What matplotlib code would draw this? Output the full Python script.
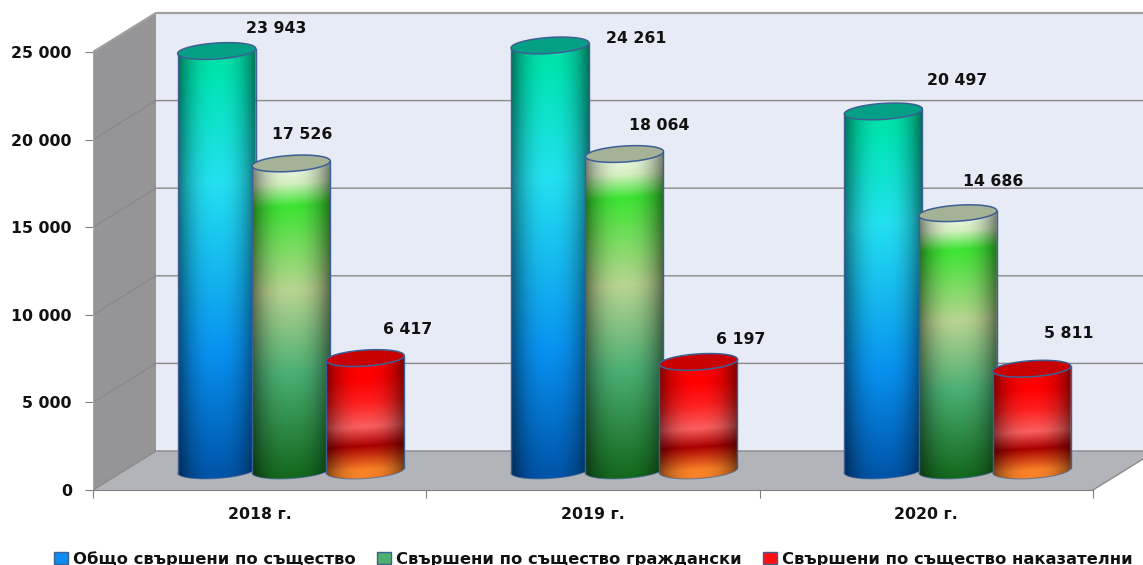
import numpy as np
import matplotlib
matplotlib.use("Agg")
import matplotlib.pyplot as plt
from matplotlib.patches import Patch, PathPatch, Polygon
from matplotlib.path import Path

years = ["2018 г.", "2019 г.", "2020 г."]
total = [23943, 24261, 20497]
civil = [17526, 18064, 14686]
criminal = [6417, 6197, 5811]
series_names = ["Общо свършени по същество",
                "Свършени по същество граждански",
                "Свършени по същество наказателни"]
value_labels = [["23 943", "24 261", "20 497"],
                ["17 526", "18 064", "14 686"],
                ["6 417", "6 197", "5 811"]]
yticks = [0, 5000, 10000, 15000, 20000, 25000]
ytick_labels = ["0", "5 000", "10 000", "15 000", "20 000", "25 000"]

# gradient stops, fraction of cylinder height from the bottom
grad_total = [(0.0, (0, 85, 170)), (0.29, (8, 145, 240)), (0.7, (35, 225, 240)), (0.95, (0, 228, 178)), (1.0, (0, 225, 170))]
grad_civil = [(0.0, (20, 105, 30)), (0.33, (75, 175, 115)), (0.6, (185, 212, 145)), (0.875, (60, 228, 50)), (0.95, (215, 240, 195)), (1.0, (235, 248, 225))]
grad_crim = [(0.05, (250, 130, 40)), (0.26, (170, 0, 0)), (0.43, (250, 95, 95)), (0.65, (255, 30, 30)), (0.85, (255, 0, 0)), (1.0, (255, 0, 0))]
gradients = [grad_total, grad_civil, grad_crim]
top_colors = ["#04a085", "#a6b296", "#c80000"]
edge_color = "#3d5f95"

W, H = 1143, 565
fig = plt.figure(figsize=(W / 100, H / 100), dpi=100, facecolor="white")
# axes: left spine at px 93, bottom spine at px 490, runs to the top right corner
ax = fig.add_axes([93 / W, (H - 490) / H, (W - 93) / W, 490 / H])
px_x = 1 / 333.3333  # data units per pixel, x
px_y = 25000 / 438  # data units per pixel, y
xmin, xmax = -0.5, -0.5 + (W - 93) * px_x
ymin, ymax = 0, 490 * px_y
depth_x, depth_y = 63 * px_x, 39 * px_y  # 3d depth of the chart box

# walls and floor
wall_top = 25000 + depth_y
ax.add_patch(Polygon([(-0.5 + depth_x, depth_y), (xmax + 1, depth_y), (xmax + 1, wall_top), (-0.5 + depth_x, wall_top)],
                     fc="#e7ebf5", ec="none", zorder=1))
ax.add_patch(Polygon([(-0.5, 0), (-0.5 + depth_x, depth_y), (-0.5 + depth_x, wall_top), (-0.5, 25000)],
                     fc="#959598", ec="none", zorder=1))
ax.add_patch(Polygon([(-0.5, 0), (-0.5 + depth_x, depth_y), (xmax + 1, depth_y), (2.5 + depth_x, depth_y), (2.5, 0)],
                     fc="#b2b4ba", ec="none", zorder=1))
for t in yticks:
    lw = 1.6 if t == 25000 else 1.0
    color = "#a0a0a0" if t == 25000 else "#8a8a8a"
    ax.plot([-0.5, -0.5 + depth_x, xmax], [t, t + depth_y, t + depth_y], color=color, lw=lw, zorder=2)
ax.plot([2.5, 2.5 + depth_x], [0, depth_y], color="#8a8a8a", lw=1.0, zorder=2)

# cylinders
half_w = 39 * px_x
semi_h = 8 * px_y
tilt = 2.5 * px_y
offsets = [-74.5 * px_x, 0, 74 * px_x]
all_values = [total, civil, criminal]
# value labels were placed by hand in the original, offset from each bar top in pixels
label_dx = [[60, 86, 74], [11, 34.5, 35], [42, 42, 37]]
label_dy = [[23, 6.5, 31], [29, 29, 32], [29, 22, 35]]


def ramp(frac, stops):
    pos = [s[0] for s in stops]
    return np.stack([np.interp(frac, pos, [s[1][c] for s in stops]) for c in range(3)], axis=-1) / 255


def draw_cylinder(cx, value, stops, top_color, z):
    base = depth_y / 2
    t = np.linspace(np.pi, 2 * np.pi, 60)
    xa = cx + half_w * np.cos(t)
    low = semi_h * np.sin(t) + tilt * np.cos(t)
    xs = np.r_[xa, xa[::-1]]
    ys = np.r_[base + low, base + value + low[::-1]]
    body = Path(np.column_stack([xs, ys]))

    nx, ny = 160, 700
    gx = np.linspace(cx - half_w, cx + half_w, nx)
    gy = np.linspace(base - semi_h - tilt, base + value + semi_h + tilt, ny)
    xx, yy = np.meshgrid(gx, gy)
    u = (xx - cx) / half_w
    frac = np.clip((yy - base - tilt * u + semi_h * 0.6) / value, 0, 1)
    rgb = ramp(frac, stops)
    shade = 1 - 0.5 * np.abs(u) ** 2.4
    rgb = rgb * shade[..., None]
    im = ax.imshow(rgb, extent=(gx[0], gx[-1], gy[0], gy[-1]), origin="lower", aspect="auto", zorder=z, interpolation="bilinear")
    patch = PathPatch(body, fc="none", ec="none", transform=ax.transData, zorder=z)
    ax.add_patch(patch)
    im.set_clip_path(patch)
    # outline on the sides and the rim
    ax.plot(xa[[0, 0]], [base + low[0], base + value + low[0]], color=edge_color, lw=1, zorder=z + 0.1)
    ax.plot(xa[[-1, -1]], [base + low[-1], base + value + low[-1]], color=edge_color, lw=1, zorder=z + 0.1)
    ax.plot(xa, base + low, color=edge_color, lw=0.8, alpha=0.6, zorder=z + 0.1)
    tt = np.linspace(0, 2 * np.pi, 120)
    ax.add_patch(Polygon(np.column_stack([cx + half_w * np.cos(tt), base + value + semi_h * np.sin(tt) + tilt * np.cos(tt)]),
                         fc=top_color, ec=edge_color, lw=1.1, zorder=z + 0.2))


for s, values in enumerate(all_values):
    for i, v in enumerate(values):
        cx = i + depth_x / 2 + offsets[s]
        draw_cylinder(cx, v, gradients[s], top_colors[s], 3 + s)
        ax.text(cx + label_dx[s][i] * px_x, depth_y / 2 + v + label_dy[s][i] * px_y, value_labels[s][i],
                ha="center", va="center", fontsize=11.3, fontweight="bold", color="#111111", zorder=8)

ax.set_xlim(xmin, xmax)
ax.set_ylim(ymin, ymax)
ax.patch.set_visible(False)
for side in ["top", "right"]:
    ax.spines[side].set_visible(False)
ax.spines["left"].set_bounds(0, 25000)
ax.spines["bottom"].set_bounds(-0.5, 2.5)
ax.spines["left"].set_color("#a8a8a8")
ax.spines["bottom"].set_color("#808080")
ax.set_yticks(yticks)
ax.set_yticklabels(ytick_labels, fontsize=11.3, fontweight="bold", color="#111111")
ax.set_xticks([-0.5, 0.5, 1.5, 2.5])
ax.set_xticklabels([])
ax.set_xticks([0, 1, 2], minor=True)
ax.set_xticklabels(years, minor=True, fontsize=11.3, fontweight="bold", color="#111111")
ax.tick_params(axis="x", which="minor", length=0, pad=12)
ax.tick_params(axis="both", which="major", color="#808080", length=5.8, direction="out")
ax.tick_params(axis="y", pad=9.4)

handles = [Patch(fc="#0c8cf0", ec=edge_color), Patch(fc="#4caf6e", ec=edge_color), Patch(fc="#ff1010", ec=edge_color)]
fig.legend(handles, series_names, loc="lower center", ncol=3, frameon=False, bbox_to_anchor=(0.519, -0.029),
           prop={"size": 11.8, "weight": "bold"}, handlelength=0.85, handleheight=0.7, handletextpad=0.3, columnspacing=1.3,
           labelcolor="#111111")

fig.savefig("out.png", dpi=100)
